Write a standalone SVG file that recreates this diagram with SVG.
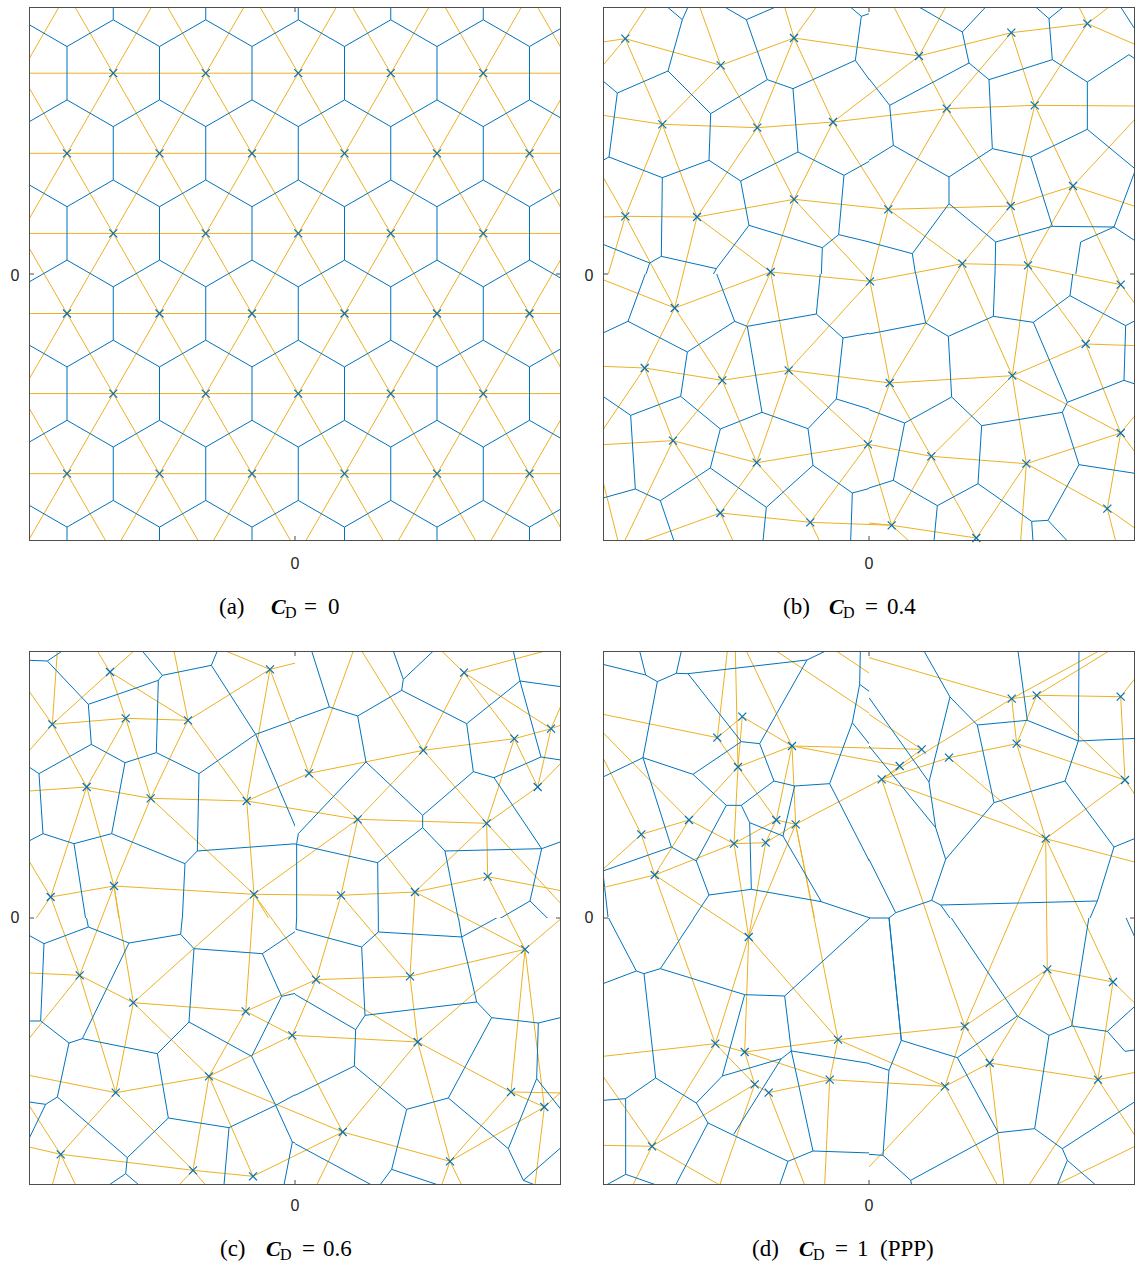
<svg xmlns="http://www.w3.org/2000/svg" width="1137" height="1267" viewBox="0 0 1137 1267">
<style>
.b{fill:none;stroke:#0072BD;stroke-width:1}
.y{fill:none;stroke:#EDB120;stroke-width:1}
.bz{fill:none;stroke:#0072BD;stroke-width:3}
.yz{fill:none;stroke:#EDB120;stroke-width:3}
.fr{fill:none;stroke:#4d4d4d;stroke-width:1}
.tk{fill:none;stroke:#4d4d4d;stroke-width:1}
.tl{font-family:"Liberation Sans",Arial,sans-serif;font-size:16px;fill:#262626}
.cap{font-family:"Liberation Serif","DejaVu Serif",serif;font-size:23px;fill:#000}
.cb{font-weight:bold;font-style:italic;font-size:22px}
.sub{font-size:16px}
</style>
<defs>
<path id="xm" d="M-4,-4L4,4M-4,4L4,-4" fill="none" stroke="#0072BD" stroke-width="1.2"/>
<clipPath id="ca"><rect x="29" y="7" width="532" height="534"/></clipPath>
<clipPath id="cb"><rect x="603" y="7" width="532" height="534"/></clipPath>
<clipPath id="cc"><rect x="29" y="651" width="532" height="534"/></clipPath>
<clipPath id="cd"><rect x="603" y="651" width="532" height="534"/></clipPath>
<clipPath id="qb1"><rect x="603" y="7" width="266" height="267"/></clipPath>
<clipPath id="qb2"><rect x="869" y="7" width="266" height="267"/></clipPath>
<clipPath id="qb3"><rect x="603" y="274" width="266" height="267"/></clipPath>
<clipPath id="qb4"><rect x="869" y="274" width="266" height="267"/></clipPath>
<clipPath id="qc1"><rect x="29" y="651" width="266" height="267"/></clipPath>
<clipPath id="qc2"><rect x="295" y="651" width="266" height="267"/></clipPath>
<clipPath id="qc3"><rect x="29" y="918" width="266" height="267"/></clipPath>
<clipPath id="qc4"><rect x="295" y="918" width="266" height="267"/></clipPath>
<clipPath id="qd1"><rect x="603" y="651" width="266" height="267"/></clipPath>
<clipPath id="qd2"><rect x="869" y="651" width="266" height="267"/></clipPath>
<clipPath id="qd3"><rect x="603" y="918" width="266" height="267"/></clipPath>
<clipPath id="qd4"><rect x="869" y="918" width="266" height="267"/></clipPath>
</defs>
<rect width="1137" height="1267" fill="#fff"/>

<!-- Panel (a) -->
<g id="panel-a">
<g clip-path="url(#ca)">
<path class="y" d="M20,73.2H570M20,153.3H570M20,233.4H570M20,313.5H570M20,393.6H570M20,473.7H570
M-310.6,-20L30.1,570M-218.1,-20L122.6,570M-125.6,-20L215.1,570M-33.1,-20L307.6,570M59.4,-20L400.1,570M151.9,-20L492.6,570M244.4,-20L585.1,570M336.9,-20L677.6,570M429.4,-20L770.1,570M521.9,-20L862.6,570
M74.6,-20L-266.1,570M167.1,-20L-173.6,570M259.6,-20L-81.1,570M352.1,-20L11.4,570M444.6,-20L103.9,570M537.1,-20L196.4,570M629.6,-20L288.9,570M722.1,-20L381.4,570M814.6,-20L473.9,570M907.1,-20L566.4,570"/>
<path class="b" d="M113.25,0V19.8M205.75,0V19.8M298.25,0V19.8M390.75,0V19.8M483.25,0V19.8
M20.75,19.8L67,46.5L113.25,19.8L159.5,46.5L205.75,19.8L252,46.5L298.25,19.8L344.5,46.5L390.75,19.8L437,46.5L483.25,19.8L529.5,46.5L575.75,19.8
M67,46.5V99.9M159.5,46.5V99.9M252,46.5V99.9M344.5,46.5V99.9M437,46.5V99.9M529.5,46.5V99.9
M20.75,126.6L67,99.9L113.25,126.6L159.5,99.9L205.75,126.6L252,99.9L298.25,126.6L344.5,99.9L390.75,126.6L437,99.9L483.25,126.6L529.5,99.9L575.75,126.6
M113.25,126.6V180M205.75,126.6V180M298.25,126.6V180M390.75,126.6V180M483.25,126.6V180
M20.75,180L67,206.7L113.25,180L159.5,206.7L205.75,180L252,206.7L298.25,180L344.5,206.7L390.75,180L437,206.7L483.25,180L529.5,206.7L575.75,180
M67,206.7V260.1M159.5,206.7V260.1M252,206.7V260.1M344.5,206.7V260.1M437,206.7V260.1M529.5,206.7V260.1
M20.75,286.8L67,260.1L113.25,286.8L159.5,260.1L205.75,286.8L252,260.1L298.25,286.8L344.5,260.1L390.75,286.8L437,260.1L483.25,286.8L529.5,260.1L575.75,286.8
M113.25,286.8V340.2M205.75,286.8V340.2M298.25,286.8V340.2M390.75,286.8V340.2M483.25,286.8V340.2
M20.75,340.2L67,366.9L113.25,340.2L159.5,366.9L205.75,340.2L252,366.9L298.25,340.2L344.5,366.9L390.75,340.2L437,366.9L483.25,340.2L529.5,366.9L575.75,340.2
M67,366.9V420.3M159.5,366.9V420.3M252,366.9V420.3M344.5,366.9V420.3M437,366.9V420.3M529.5,366.9V420.3
M20.75,447L67,420.3L113.25,447L159.5,420.3L205.75,447L252,420.3L298.25,447L344.5,420.3L390.75,447L437,420.3L483.25,447L529.5,420.3L575.75,447
M113.25,447V500.4M205.75,447V500.4M298.25,447V500.4M390.75,447V500.4M483.25,447V500.4
M20.75,500.4L67,527.1L113.25,500.4L159.5,527.1L205.75,500.4L252,527.1L298.25,500.4L344.5,527.1L390.75,500.4L437,527.1L483.25,500.4L529.5,527.1L575.75,500.4
M67,527.1V560M159.5,527.1V560M252,527.1V560M344.5,527.1V560M437,527.1V560M529.5,527.1V560"/>
</g>
<g id="pts-a">
<use href="#xm" x="113.25" y="73.2"/><use href="#xm" x="205.75" y="73.2"/><use href="#xm" x="298.25" y="73.2"/><use href="#xm" x="390.75" y="73.2"/><use href="#xm" x="483.25" y="73.2"/>
<use href="#xm" x="67" y="153.3"/><use href="#xm" x="159.5" y="153.3"/><use href="#xm" x="252" y="153.3"/><use href="#xm" x="344.5" y="153.3"/><use href="#xm" x="437" y="153.3"/><use href="#xm" x="529.5" y="153.3"/>
<use href="#xm" x="113.25" y="233.4"/><use href="#xm" x="205.75" y="233.4"/><use href="#xm" x="298.25" y="233.4"/><use href="#xm" x="390.75" y="233.4"/><use href="#xm" x="483.25" y="233.4"/>
<use href="#xm" x="67" y="313.5"/><use href="#xm" x="159.5" y="313.5"/><use href="#xm" x="252" y="313.5"/><use href="#xm" x="344.5" y="313.5"/><use href="#xm" x="437" y="313.5"/><use href="#xm" x="529.5" y="313.5"/>
<use href="#xm" x="113.25" y="393.6"/><use href="#xm" x="205.75" y="393.6"/><use href="#xm" x="298.25" y="393.6"/><use href="#xm" x="390.75" y="393.6"/><use href="#xm" x="483.25" y="393.6"/>
<use href="#xm" x="67" y="473.7"/><use href="#xm" x="159.5" y="473.7"/><use href="#xm" x="252" y="473.7"/><use href="#xm" x="344.5" y="473.7"/><use href="#xm" x="437" y="473.7"/><use href="#xm" x="529.5" y="473.7"/>
</g>
<rect class="fr" x="29.5" y="7.5" width="531" height="533"/>
<path class="tk" d="M29.5,274H34M560.5,274H556M295,540.5V536M295,7.5V12"/>
<text class="tl" x="295" y="569" text-anchor="middle">0</text>
<text class="tl" x="15" y="281" text-anchor="middle">0</text>
<text class="cap" y="614"><tspan x="219">(a)</tspan><tspan class="cb" x="271">C</tspan><tspan class="sub" x="285" dy="4">D</tspan><tspan x="304" dy="-4">=</tspan><tspan x="328">0</tspan></text>
</g>

<!-- Panel (b) -->
<g id="panel-b">
<g clip-path="url(#cb)">
<path class="y" d="M625.3,38.7L720.7,65.3M625.3,38.7L662.3,124.3M720.7,65.3L794,38M720.7,65.3L662.3,124.3M720.7,65.3L757.3,127.7M794,38L757.3,127.7M794,38L833,122M794,38L919,56M662.3,124.3L757.3,127.7M662.3,124.3L625.3,216.3M662.3,124.3L697,217M757.3,127.7L833,122M757.3,127.7L697,217M757.3,127.7L794,199.3M833,122L794,199.3M833,122L919,56M833,122L946.7,108.7M833,122L888.3,209.3M625.3,216.3L697,217M625.3,216.3L674.7,308M697,217L794,199.3M697,217L770.7,272M697,217L674.7,308M794,199.3L770.7,272M794,199.3L888.3,209.3M794,199.3L870,281.3M770.7,272L870,281.3M770.7,272L674.7,308M770.7,272L722.3,380.3M770.7,272L788.7,370.3
M919,56L1011.3,32.7M919,56L946.7,108.7M1011.3,32.7L1087.3,23.7M1011.3,32.7L946.7,108.7M1011.3,32.7L1034.7,105.3M1087.3,23.7L1034.7,105.3M946.7,108.7L1034.7,105.3M946.7,108.7L888.3,209.3M946.7,108.7L1010.7,206M1034.7,105.3L1010.7,206M1034.7,105.3L1073,186M888.3,209.3L1010.7,206M888.3,209.3L962.3,263.7M888.3,209.3L870,281.3M1010.7,206L1073,186M1010.7,206L962.3,263.7M1010.7,206L1028,265.3M1073,186L1028,265.3M1073,186L1120.7,284.7M962.3,263.7L1028,265.3M962.3,263.7L870,281.3M962.3,263.7L1012.3,375.7M962.3,263.7L889.7,383M1028,265.3L1012.3,375.7M1028,265.3L1085.7,344M1028,265.3L1120.7,284.7
M674.7,308L644.7,368M674.7,308L722.3,380.3M644.7,368L722.3,380.3M644.7,368L673,440.7M722.3,380.3L788.7,370.3M722.3,380.3L673,440.7M722.3,380.3L756.7,462.7M788.7,370.3L870,281.3M788.7,370.3L756.7,462.7M788.7,370.3L868,444.3M788.7,370.3L889.7,383M870,281.3L889.7,383M673,440.7L756.7,462.7M673,440.7L720.3,513M756.7,462.7L868,444.3M756.7,462.7L720.3,513M756.7,462.7L810.3,522.3M868,444.3L810.3,522.3M868,444.3L889.7,383M868,444.3L931.3,456.3M868,444.3L891.7,525.3M720.3,513L810.3,522.3M810.3,522.3L891.7,525.3
M1120.7,284.7L1085.7,344M1085.7,344L1012.3,375.7M1085.7,344L1120.7,433M1012.3,375.7L889.7,383M1012.3,375.7L931.3,456.3M1012.3,375.7L1026.3,463.7M1012.3,375.7L1120.7,433M889.7,383L931.3,456.3M931.3,456.3L1026.3,463.7M931.3,456.3L891.7,525.3M931.3,456.3L976.3,538M1026.3,463.7L1120.7,433M1026.3,463.7L1107.3,508.7M1026.3,463.7L976.3,538M1120.7,433L1107.3,508.7M891.7,525.3L976.3,538"/>
</g>
<g clip-path="url(#qb1)"><g transform="translate(603,7) scale(0.333333)">
<path class="yz" d="M67,95L0,105M67,95L130,0M67,95L0,175M353,175L290,0M573,93L545,0M573,93L640,0M178,352L0,325M67,628L0,630M67,628L0,510M67,628L15,804"/>
<path class="bz" d="M193,0L238,38M238,38L255,0M238,38L195,192M365,0L430,38L518,0M430,38L493,218M0,222L43,258L195,192M195,192L323,320M493,218L323,320M493,218L570,245L757,160L775,28L742,0M775,28L804,18M570,245L585,435M757,160L804,225M323,320L318,460M43,258L18,450L0,460M18,450L178,512L318,460L413,522L585,435L723,505L804,460M723,505L707,683L804,706M413,522L438,655L658,722L707,683M658,722L655,804M438,655L340,785L330,804M178,512L175,748L340,785M0,712L140,768L175,748M140,768L128,804"/>
</g></g>
<g clip-path="url(#qb2)"><g transform="translate(869,7) scale(0.333333)">
<path class="yz" d="M150,147L75,0M150,147L230,0M655,50L630,0M655,50L720,0M655,50L804,115M497,295L804,297M612,537L804,600M612,537L804,330"/>
<path class="bz" d="M150,0L280,75L350,0M280,75L300,168L360,218M300,168L62,295L0,215M62,295L73,415L0,460M73,415L240,510L370,425L360,218L550,158L540,35L500,0M540,35L583,0M550,158L655,225L780,143L804,160M755,0L800,70M655,225L655,367L485,450L370,425M655,367L800,487L735,660L804,705M485,450L550,658L735,660M550,658L380,705L378,804M380,705L240,590L240,510M240,590L130,740L0,705M130,740L140,804M735,660L635,705L620,804"/>
</g></g>
<g clip-path="url(#qb3)"><g transform="translate(603,273) scale(0.333333)">
<path class="yz" d="M215,105L0,20M125,285L0,280M125,285L0,470M210,503L0,515M210,503L65,804M352,720L120,804M352,720L390,804M622,748L650,804M0,625L45,804"/>
<path class="bz" d="M128,0L75,145L0,180M75,145L253,237L395,145L340,0M395,145L433,160L640,123L652,0M640,123L720,195L804,180M720,195L700,378L804,410M700,378L615,467L477,418L433,160M477,418L352,468L233,370L253,237M233,370L83,427L0,370M352,468L322,585L172,683M322,585L490,703L630,577L615,467M630,577L748,660L804,645M748,660L743,804M490,703L480,804M83,427L97,648L0,675M97,648L172,683L213,804"/>
</g></g>
<g clip-path="url(#qb4)"><g transform="translate(869,273) scale(0.333333)">
<path class="yz" d="M755,35L804,100M650,213L804,218M472,572L455,804M755,480L804,545M755,480L804,420M715,707L740,804M715,707L804,770M68,757L0,750M68,757L120,804M322,795L330,804"/>
<path class="bz" d="M140,0L170,150L0,183M170,150L238,190L373,130L378,0M373,130L493,148L603,68L612,0M603,68L770,158L804,140M770,158L765,322L804,335M765,322L595,388L493,148M595,388L580,418L338,458L248,372L238,190M580,418L630,575L804,602M630,575L537,742L488,745L492,804M537,742L595,804M488,745L327,632L338,458M248,372L107,450L0,410M107,450L73,622L0,645M73,622L205,698L327,632M205,698L195,804"/>
</g></g>
<g id="pts-b">
<use href="#xm" x="625.3" y="38.7"/><use href="#xm" x="720.7" y="65.3"/><use href="#xm" x="794" y="38"/><use href="#xm" x="662.3" y="124.3"/><use href="#xm" x="757.3" y="127.7"/><use href="#xm" x="833" y="122"/><use href="#xm" x="625.3" y="216.3"/><use href="#xm" x="697" y="217"/><use href="#xm" x="794" y="199.3"/><use href="#xm" x="770.7" y="272"/>
<use href="#xm" x="919" y="56"/><use href="#xm" x="1011.3" y="32.7"/><use href="#xm" x="1087.3" y="23.7"/><use href="#xm" x="946.7" y="108.7"/><use href="#xm" x="1034.7" y="105.3"/><use href="#xm" x="888.3" y="209.3"/><use href="#xm" x="1010.7" y="206"/><use href="#xm" x="1073" y="186"/><use href="#xm" x="962.3" y="263.7"/><use href="#xm" x="1028" y="265.3"/>
<use href="#xm" x="674.7" y="308"/><use href="#xm" x="644.7" y="368"/><use href="#xm" x="722.3" y="380.3"/><use href="#xm" x="788.7" y="370.3"/><use href="#xm" x="870" y="281.3"/><use href="#xm" x="673" y="440.7"/><use href="#xm" x="756.7" y="462.7"/><use href="#xm" x="868" y="444.3"/><use href="#xm" x="720.3" y="513"/><use href="#xm" x="810.3" y="522.3"/>
<use href="#xm" x="1120.7" y="284.7"/><use href="#xm" x="1085.7" y="344"/><use href="#xm" x="1012.3" y="375.7"/><use href="#xm" x="889.7" y="383"/><use href="#xm" x="931.3" y="456.3"/><use href="#xm" x="1026.3" y="463.7"/><use href="#xm" x="1120.7" y="433"/><use href="#xm" x="1107.3" y="508.7"/><use href="#xm" x="891.7" y="525.3"/><use href="#xm" x="976.3" y="538"/>
</g>
<rect class="fr" x="603.5" y="7.5" width="531" height="533"/>
<path class="tk" d="M603.5,274H608M1134.5,274H1130M869,540.5V536M869,7.5V12"/>
<text class="tl" x="869" y="569" text-anchor="middle">0</text>
<text class="tl" x="589" y="281" text-anchor="middle">0</text>
<text class="cap" y="614"><tspan x="783">(b)</tspan><tspan class="cb" x="829">C</tspan><tspan class="sub" x="843" dy="4">D</tspan><tspan x="865" dy="-4">=</tspan><tspan x="887">0.4</tspan></text>
</g>

<!-- Panel (c) -->
<g id="panel-c">
<g clip-path="url(#cc)">
<path class="y" d="M110,672L52.3,724.3M110,672L125.7,718.3M110,672L188,720.3M52.3,724.3L125.7,718.3M52.3,724.3L86.7,787M125.7,718.3L188,720.3M125.7,718.3L86.7,787M125.7,718.3L150.7,798.3M188,720.3L270,669.3M188,720.3L150.7,798.3M188,720.3L246.7,801M270,669.3L246.7,801M270,669.3L309,773.3M86.7,787L150.7,798.3M86.7,787L50.7,897M86.7,787L114,886M150.7,798.3L246.7,801M150.7,798.3L114,886M150.7,798.3L254,894.3M246.7,801L254,894.3M246.7,801L309,773.3M246.7,801L357.7,819.3M50.7,897L114,886M114,886L254,894.3M254,894.3L357.7,819.3M254,894.3L341,895.3
M464,672.7L551,728.7M464,672.7L514.3,738.7M464,672.7L423.3,750.3M551,728.7L514.3,738.7M551,728.7L537.7,787M514.3,738.7L423.3,750.3M514.3,738.7L537.7,787M514.3,738.7L486.7,823.3M423.3,750.3L309,773.3M423.3,750.3L357.7,819.3M423.3,750.3L486.7,823.3M309,773.3L357.7,819.3M537.7,787L486.7,823.3M357.7,819.3L486.7,823.3M357.7,819.3L341,895.3M357.7,819.3L415,892M486.7,823.3L487.7,876.7M486.7,823.3L415,892M487.7,876.7L415,892M487.7,876.7L525,949.3M341,895.3L415,892M341,895.3L316,979.7M341,895.3L410,976.3M415,892L410,976.3M415,892L525,949.3
M50.7,897L79.7,975.3M114,886L79.7,975.3M114,886L133.3,1002.7M254,894.3L133.3,1002.7M254,894.3L245.7,1011.3M254,894.3L316,979.7M79.7,975.3L133.3,1002.7M79.7,975.3L115.7,1092.7M133.3,1002.7L245.7,1011.3M133.3,1002.7L115.7,1092.7M133.3,1002.7L209,1076.3M245.7,1011.3L292.3,1035.3M245.7,1011.3L209,1076.3M245.7,1011.3L316,979.7M292.3,1035.3L209,1076.3M292.3,1035.3L316,979.7M292.3,1035.3L417.7,1042M292.3,1035.3L342.7,1132M115.7,1092.7L209,1076.3M115.7,1092.7L60.7,1154.3M115.7,1092.7L193,1170.3M209,1076.3L193,1170.3M209,1076.3L253,1176.3M209,1076.3L342.7,1132M60.7,1154.3L193,1170.3M193,1170.3L253,1176.3M253,1176.3L342.7,1132
M316,979.7L410,976.3M316,979.7L417.7,1042M410,976.3L525,949.3M410,976.3L417.7,1042M525,949.3L417.7,1042M525,949.3L511,1092M525,949.3L544.3,1107M417.7,1042L511,1092M417.7,1042L342.7,1132M417.7,1042L450,1161.3M511,1092L544.3,1107M511,1092L450,1161.3M544.3,1107L450,1161.3M342.7,1132L450,1161.3"/>
</g>
<g clip-path="url(#qc1)"><g transform="translate(29,651) scale(0.333333)">
<path class="yz" d="M70,220L85,0M243,63L205,0M243,63L315,0M0,120L70,220M0,300L70,220M477,208L435,0M723,55L590,0M723,55L804,35M0,420L173,408M0,630L65,738M65,738L20,804M255,705L270,804M675,730L720,804"/>
<path class="bz" d="M0,28L55,30L100,0M55,30L178,160L388,88L400,73L340,0M400,73L547,43L565,0M547,43L680,250L804,205M680,250L808,548M388,88L382,305L288,335L187,280L178,160M382,305L510,368L680,250M510,368L505,600L804,578M505,600L468,638L460,804M468,638L248,548L288,335M248,548L135,578L170,804M187,280L30,368L0,348M30,368L42,548L0,570M42,548L135,578"/>
</g></g>
<g clip-path="url(#qc2)"><g transform="translate(295,651) scale(0.333333)">
<path class="yz" d="M507,65L440,0M507,65L750,0M385,298L200,0M42,367L175,0M768,233L804,220M768,233L804,150M728,408L804,330M575,517L804,765M578,677L804,720"/>
<path class="bz" d="M50,0L103,168L0,205M103,168L188,195L320,118L325,85L295,0M325,85L415,0M320,118L515,218L675,90L655,0M675,90L804,108M675,90L738,318L804,328M738,318L597,380L535,362L515,218M535,362L383,493L213,333L188,195M213,333L10,548L5,578L5,804M-4,578L248,635M383,493L383,530L248,635L250,804M383,530L450,600L740,593L804,570M740,593L597,380M740,593L705,750L760,804M705,750L612,804M450,600L490,804"/>
</g></g>
<g clip-path="url(#qc3)"><g transform="translate(29,917) scale(0.333333)">
<path class="yz" d="M152,175L0,168M152,175L0,365M260,527L0,475M95,712L0,690M95,712L0,565M95,712L70,804M95,712L140,804M492,760L450,804M492,760L530,804"/>
<path class="bz" d="M172,0L178,30L45,80L0,55M45,80L35,312L0,312M35,312L120,378L160,365L300,78L178,30M300,78L455,52L460,0M455,52L495,95L700,110L804,40M700,110L758,238L804,228M758,238L668,418L480,315L495,95M480,315L385,410L160,365M385,410L418,603L600,632L740,565L668,418M740,565L804,530M740,565L790,675L804,680M790,675L765,804M600,632L585,804M418,603L295,722L85,540L120,378M85,540L50,562L0,665M0,555L50,562M295,722L290,770L240,804M290,770L330,804"/>
</g></g>
<g clip-path="url(#qc4)"><g transform="translate(295,917) scale(0.333333)">
<path class="yz" d="M690,97L804,0M648,525L804,528M748,570L804,520M748,570L720,804M143,645L65,804M465,733L440,804M465,733L500,804"/>
<path class="bz" d="M5,0L3,37L200,90L250,45L250,0M250,45L500,60L490,0M500,60L610,0M500,60L545,255L590,302L730,318L804,300M730,318L725,485L800,580M725,485L640,695M590,302L460,543L335,577L178,447L182,338L210,295L200,90M210,295L545,255M182,338L0,232M178,447L0,535M335,577L290,757L255,804M290,757L430,804M0,680L230,804M460,543L640,695L685,790L720,804M685,790L800,690"/>
</g></g>
<g id="pts-c">
<use href="#xm" x="110" y="672"/><use href="#xm" x="52.3" y="724.3"/><use href="#xm" x="125.7" y="718.3"/><use href="#xm" x="188" y="720.3"/><use href="#xm" x="270" y="669.3"/><use href="#xm" x="86.7" y="787"/><use href="#xm" x="150.7" y="798.3"/><use href="#xm" x="246.7" y="801"/><use href="#xm" x="50.7" y="897"/><use href="#xm" x="114" y="886"/><use href="#xm" x="254" y="894.3"/>
<use href="#xm" x="464" y="672.7"/><use href="#xm" x="551" y="728.7"/><use href="#xm" x="514.3" y="738.7"/><use href="#xm" x="423.3" y="750.3"/><use href="#xm" x="309" y="773.3"/><use href="#xm" x="537.7" y="787"/><use href="#xm" x="357.7" y="819.3"/><use href="#xm" x="486.7" y="823.3"/><use href="#xm" x="487.7" y="876.7"/><use href="#xm" x="341" y="895.3"/><use href="#xm" x="415" y="892"/>
<use href="#xm" x="79.7" y="975.3"/><use href="#xm" x="133.3" y="1002.7"/><use href="#xm" x="245.7" y="1011.3"/><use href="#xm" x="292.3" y="1035.3"/><use href="#xm" x="115.7" y="1092.7"/><use href="#xm" x="209" y="1076.3"/><use href="#xm" x="60.7" y="1154.3"/><use href="#xm" x="193" y="1170.3"/><use href="#xm" x="253" y="1176.3"/>
<use href="#xm" x="316" y="979.7"/><use href="#xm" x="410" y="976.3"/><use href="#xm" x="525" y="949.3"/><use href="#xm" x="417.7" y="1042"/><use href="#xm" x="511" y="1092"/><use href="#xm" x="544.3" y="1107"/><use href="#xm" x="342.7" y="1132"/><use href="#xm" x="450" y="1161.3"/>
</g>
<rect class="fr" x="29.5" y="651.5" width="531" height="533"/>
<path class="tk" d="M29.5,918H34M560.5,918H556M295,1184.5V1180M295,651.5V656"/>
<text class="tl" x="295" y="1211" text-anchor="middle">0</text>
<text class="tl" x="15" y="923" text-anchor="middle">0</text>
<text class="cap" y="1256"><tspan x="220">(c)</tspan><tspan class="cb" x="266">C</tspan><tspan class="sub" x="280" dy="4">D</tspan><tspan x="302" dy="-4">=</tspan><tspan x="323">0.6</tspan></text>
</g>

<!-- Panel (d) -->
<g id="panel-d">
<g clip-path="url(#cd)">
<path class="y" d="M742.3,716.7L717.3,737.7M742.3,716.7L792,746M742.3,716.7L738,767M717.3,737.7L738,767M792,746L738,767M792,746L776.3,820M792,746L795.7,824.3M792,746L921.7,749.3M792,746L899.7,766M738,767L689,820M738,767L776.3,820M738,767L734,843.7M689,820L641.3,834.3M689,820L734,843.7M689,820L654.7,875M776.3,820L795.7,824.3M776.3,820L734,843.7M776.3,820L765.7,842.7M795.7,824.3L765.7,842.7M795.7,824.3L881.7,779.3M795.7,824.3L748.7,937M795.7,824.3L838,1039.7M641.3,834.3L654.7,875M734,843.7L765.7,842.7M734,843.7L654.7,875M734,843.7L748.7,937M765.7,842.7L748.7,937M654.7,875L748.7,937M654.7,875L715.3,1043.7
M1011.7,698.7L1036.7,695.3M1011.7,698.7L1016.7,743.7M1011.7,698.7L881.7,779.3M1036.7,695.3L1120.7,696.7M1036.7,695.3L1016.7,743.7M1036.7,695.3L1125,780M1120.7,696.7L1125,780M1016.7,743.7L949,757.7M1016.7,743.7L1125,780M1016.7,743.7L1045.7,838.7M921.7,749.3L899.7,766M949,757.7L881.7,779.3M949,757.7L1045.7,838.7M899.7,766L881.7,779.3M881.7,779.3L1045.7,838.7M881.7,779.3L964.7,1026.3M1125,780L1045.7,838.7M1045.7,838.7L1047.3,969.3M1045.7,838.7L1113,982M1045.7,838.7L964.7,1026.3
M748.7,937L715.3,1043.7M748.7,937L744.7,1052M748.7,937L838,1039.7M715.3,1043.7L744.7,1052M715.3,1043.7L754.7,1084.3M715.3,1043.7L652,1146.3M744.7,1052L754.7,1084.3M744.7,1052L838,1039.7M744.7,1052L829.7,1079.7M754.7,1084.3L768.7,1092.7M754.7,1084.3L652,1146.3M768.7,1092.7L829.7,1079.7M838,1039.7L829.7,1079.7M838,1039.7L964.7,1026.3M838,1039.7L945,1086.3M829.7,1079.7L945,1086.3
M1047.3,969.3L1113,982M1047.3,969.3L964.7,1026.3M1047.3,969.3L989.7,1063M1047.3,969.3L1098,1079.7M1113,982L1098,1079.7M964.7,1026.3L989.7,1063M964.7,1026.3L945,1086.3M989.7,1063L945,1086.3M989.7,1063L1098,1079.7"/>
<path class="b" d="M821.3,901.7L870,918M784.7,996L870,918L889,918L895.7,912.7M889,918L901.3,1040.3M603,873L608,917"/>
</g>
<g clip-path="url(#qd1)"><g transform="translate(603,651) scale(0.333333)">
<path class="yz" d="M0,190L343,260M343,260L373,0M405,348L397,0M567,285L430,0M258,507L0,245M115,550L0,320M115,550L0,655M155,672L0,710M520,0L804,190M700,0L804,70M578,520L635,804"/>
<path class="bz" d="M0,40L128,72L110,0M128,72L163,92L220,67L235,0M220,67L255,68L612,27L668,0M255,68L415,272L470,278L612,27M163,92L120,320L0,378M120,320L270,370L415,272M120,320L205,588L0,660M470,278L513,390L575,405L680,398L748,215L770,100L772,0M770,100L804,125M748,215L804,285M680,398L804,640M513,390L415,463L370,463L270,370M370,463L280,630L205,588M415,463L440,515L540,555L575,405M540,555L655,752L445,715L440,515M445,715L318,732L280,630M318,732L270,804"/>
</g></g>
<g clip-path="url(#qd2)"><g transform="translate(869,651) scale(0.333333)">
<path class="yz" d="M0,20L428,143M428,143L690,0M503,133L720,0M755,137L804,75M0,190L158,295M768,387L804,440M530,563L804,635"/>
<path class="bz" d="M165,0L243,138L325,222L475,208L447,0M243,138L180,393L200,530L230,625L375,455L325,222M475,208L628,270L630,0M628,270L804,262M628,270L588,390L375,455M588,390L735,588L804,560M735,588L685,750L215,762L188,748L230,625M685,750L662,804M188,748L80,785L0,625M0,140L180,393M0,285L200,530M215,762L245,804"/>
</g></g>
<g clip-path="url(#qd3)"><g transform="translate(603,917) scale(0.333333)">
<path class="yz" d="M0,418L337,380M0,478L147,688M0,685L147,688M147,688L90,804M147,688L350,804M455,502L350,804M497,527L605,804M680,488L665,804"/>
<path class="bz" d="M15,0L100,162L0,200M100,162L123,170L172,155L275,0M172,155L425,233L545,237M545,237L565,402L804,440M425,233L358,477L280,558M358,477L535,425L565,402M535,425L392,652M565,402L630,702L804,708M630,702L555,733L315,618L280,558L158,483L123,170M555,733L530,804M315,618L218,804M158,483L68,545L0,550M68,545L68,772L10,804M68,772L160,804"/>
</g></g>
<g clip-path="url(#qd4)"><g transform="translate(869,917) scale(0.333333)">
<path class="yz" d="M228,508L0,750M362,438L405,804M228,508L385,804M687,488L480,804M687,488L804,665M687,488L804,465M732,195L804,265M560,804L804,685"/>
<path class="bz" d="M60,0L97,370L265,422L445,297L245,0M97,370L60,460L0,440M60,460L42,715L0,712M42,715L125,790L128,804M125,790L388,647L497,635L580,695L804,550M580,695L595,730L565,804M595,730L680,804M388,647L265,422M445,297L540,355L497,635M540,355L608,327L660,0M608,327L715,343L804,262M715,343L768,403L804,398M770,0L804,75"/>
</g></g>
<g id="pts-d">
<use href="#xm" x="742.3" y="716.7"/><use href="#xm" x="717.3" y="737.7"/><use href="#xm" x="792" y="746"/><use href="#xm" x="738" y="767"/><use href="#xm" x="689" y="820"/><use href="#xm" x="776.3" y="820"/><use href="#xm" x="795.7" y="824.3"/><use href="#xm" x="641.3" y="834.3"/><use href="#xm" x="734" y="843.7"/><use href="#xm" x="765.7" y="842.7"/><use href="#xm" x="654.7" y="875"/>
<use href="#xm" x="1011.7" y="698.7"/><use href="#xm" x="1036.7" y="695.3"/><use href="#xm" x="1120.7" y="696.7"/><use href="#xm" x="1016.7" y="743.7"/><use href="#xm" x="921.7" y="749.3"/><use href="#xm" x="949" y="757.7"/><use href="#xm" x="899.7" y="766"/><use href="#xm" x="881.7" y="779.3"/><use href="#xm" x="1125" y="780"/><use href="#xm" x="1045.7" y="838.7"/>
<use href="#xm" x="748.7" y="937"/><use href="#xm" x="715.3" y="1043.7"/><use href="#xm" x="744.7" y="1052"/><use href="#xm" x="754.7" y="1084.3"/><use href="#xm" x="768.7" y="1092.7"/><use href="#xm" x="838" y="1039.7"/><use href="#xm" x="829.7" y="1079.7"/><use href="#xm" x="652" y="1146.3"/>
<use href="#xm" x="1047.3" y="969.3"/><use href="#xm" x="1113" y="982"/><use href="#xm" x="964.7" y="1026.3"/><use href="#xm" x="989.7" y="1063"/><use href="#xm" x="945" y="1086.3"/><use href="#xm" x="1098" y="1079.7"/>
</g>
<rect class="fr" x="603.5" y="651.5" width="531" height="533"/>
<path class="tk" d="M603.5,918H608M1134.5,918H1130M869,1184.5V1180M869,651.5V656"/>
<text class="tl" x="869" y="1211" text-anchor="middle">0</text>
<text class="tl" x="589" y="923" text-anchor="middle">0</text>
<text class="cap" y="1256"><tspan x="752">(d)</tspan><tspan class="cb" x="799">C</tspan><tspan class="sub" x="813" dy="4">D</tspan><tspan x="835" dy="-4">=</tspan><tspan x="857">1</tspan><tspan x="880">(PPP)</tspan></text>
</g>
</svg>
